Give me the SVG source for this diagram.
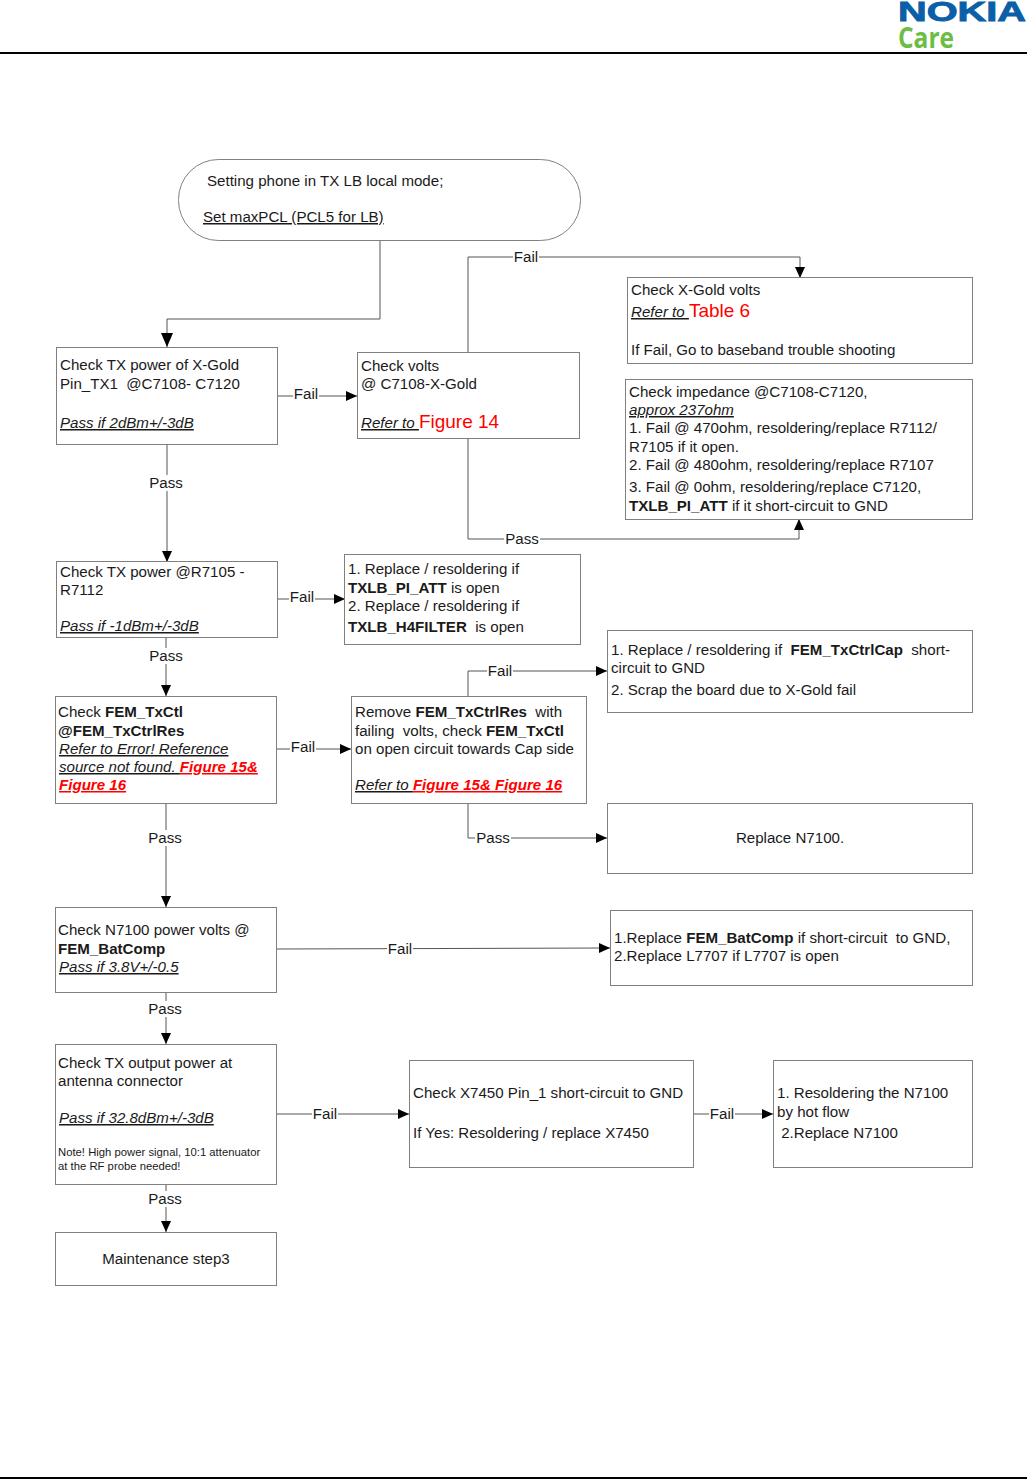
<svg xmlns="http://www.w3.org/2000/svg" width="1027" height="1479" viewBox="0 0 1027 1479">
<style>
text{font-family:"Liberation Sans",Arial,sans-serif;font-size:15.1px;fill:#1a1a1a;white-space:pre}
.box{fill:#fff;stroke:#808080;stroke-width:1}
.c{fill:none;stroke:#555;stroke-width:1}
.l{fill:#1a1a1a;text-anchor:middle}
.lb{fill:#fff;stroke:none}
.b{font-weight:bold}
.i{font-style:italic;text-decoration:underline}
.r{fill:#f00;font-weight:bold;font-style:italic;text-decoration:underline}
.rp{fill:#f00;font-size:19px}
.m{text-anchor:middle}
.s{font-size:11.300px}
</style>
<defs>
<marker id="a" markerUnits="userSpaceOnUse" markerWidth="12" markerHeight="12" refX="11" refY="6" orient="auto"><path d="M0 1L11 6L0 11Z" fill="#000"/></marker>
<marker id="a2" markerUnits="userSpaceOnUse" markerWidth="15" markerHeight="14" refX="14" refY="7" orient="auto"><path d="M0 1L14 7L0 13Z" fill="#000"/></marker>
</defs>
<g id="header">
<text x="898" y="21" style="font-size:28px;font-weight:bold;fill:#0a5fa8;stroke:#0a5fa8;stroke-width:.9" textLength="128" lengthAdjust="spacingAndGlyphs">NOKIA</text>
<text x="898" y="48" style="font-size:28px;font-weight:bold;fill:#6cbd45;font-family:'Open Sans',sans-serif" textLength="56" lengthAdjust="spacingAndGlyphs">Care</text>
<rect x="0" y="52" width="1027" height="2" fill="#000"/>
<rect x="0" y="1477" width="1027" height="2" fill="#000"/>
</g>
<g id="connectors">
<path class="c" marker-end="url(#a2)" d="M380 240V319H167V347"/>
<path class="c" marker-end="url(#a)" d="M278 396H357"/>
<path class="c" marker-end="url(#a)" d="M167 444V562"/>
<path class="c" marker-end="url(#a)" d="M468 352V257H800V278"/>
<path class="c" marker-end="url(#a)" d="M468 438V539H799V519"/>
<path class="c" marker-end="url(#a)" d="M278 599H345"/>
<path class="c" marker-end="url(#a)" d="M166 637V696"/>
<path class="c" marker-end="url(#a)" d="M277 749H351"/>
<path class="c" marker-end="url(#a)" d="M468 696V671H607"/>
<path class="c" marker-end="url(#a)" d="M468 803V838H607"/>
<path class="c" marker-end="url(#a)" d="M166 803V907"/>
<path class="c" marker-end="url(#a)" d="M277 949L610 948"/>
<path class="c" marker-end="url(#a)" d="M166 992V1044"/>
<path class="c" marker-end="url(#a)" d="M277 1114H409"/>
<path class="c" marker-end="url(#a)" d="M694 1114H773"/>
<path class="c" marker-end="url(#a)" d="M166 1184V1232"/>
<rect class="lb" x="513" y="249" width="26" height="16"/><text class="l" x="526" y="262">Fail</text>
<rect class="lb" x="293" y="386" width="26" height="16"/><text class="l" x="306" y="399">Fail</text>
<rect class="lb" x="148" y="475" width="36" height="16"/><text class="l" x="166" y="488">Pass</text>
<rect class="lb" x="504" y="531" width="36" height="16"/><text class="l" x="522" y="544">Pass</text>
<rect class="lb" x="289" y="589" width="26" height="16"/><text class="l" x="302" y="602">Fail</text>
<rect class="lb" x="148" y="648" width="36" height="16"/><text class="l" x="166" y="661">Pass</text>
<rect class="lb" x="290" y="739" width="26" height="16"/><text class="l" x="303" y="752">Fail</text>
<rect class="lb" x="487" y="663" width="26" height="16"/><text class="l" x="500" y="676">Fail</text>
<rect class="lb" x="475" y="830" width="36" height="16"/><text class="l" x="493" y="843">Pass</text>
<rect class="lb" x="147" y="830" width="36" height="16"/><text class="l" x="165" y="843">Pass</text>
<rect class="lb" x="387" y="941" width="26" height="16"/><text class="l" x="400" y="954">Fail</text>
<rect class="lb" x="147" y="1001" width="36" height="16"/><text class="l" x="165" y="1014">Pass</text>
<rect class="lb" x="312" y="1106" width="26" height="16"/><text class="l" x="325" y="1119">Fail</text>
<rect class="lb" x="709" y="1106" width="26" height="16"/><text class="l" x="722" y="1119">Fail</text>
<rect class="lb" x="147" y="1191" width="36" height="16"/><text class="l" x="165" y="1204">Pass</text>
</g>
<g id="n1"><rect class="box" x="178.500" y="159.500" width="402" height="81" rx="40" ry="40"/>
<text x="207" y="186">Setting phone in TX LB local mode;</text>
<text x="203" y="222" text-decoration="underline">Set maxPCL (PCL5 for LB)</text></g>
<g id="n2"><rect class="box" x="56.500" y="347.500" width="221" height="97"/>
<text x="60" y="370">Check TX power of X-Gold</text><text x="60" y="389">Pin_TX1  @C7108- C7120</text>
<text x="60" y="428" class="i">Pass if 2dBm+/-3dB</text></g>
<g id="n3"><rect class="box" x="357.500" y="352.500" width="222" height="86"/>
<text x="361" y="371">Check volts</text><text x="361" y="389">@ C7108-X-Gold</text>
<text x="361" y="428"><tspan class="i">Refer to </tspan><tspan class="rp">Figure 14</tspan></text></g>
<g id="n4"><rect class="box" x="627.500" y="277.500" width="345" height="86"/>
<text x="631" y="295">Check X-Gold volts</text>
<text x="631" y="317"><tspan class="i">Refer to </tspan><tspan class="rp">Table 6</tspan></text>
<text x="631" y="355">If Fail, Go to baseband trouble shooting</text></g>
<g id="n5"><rect class="box" x="625.500" y="379.500" width="347" height="140"/>
<text x="629" y="397">Check impedance @C7108-C7120,</text>
<text x="629" y="415" class="i">approx 237ohm</text>
<text x="629" y="433">1. Fail @ 470ohm, resoldering/replace R7112/</text>
<text x="629" y="452">R7105 if it open.</text>
<text x="629" y="470">2. Fail @ 480ohm, resoldering/replace R7107</text>
<text x="629" y="492">3. Fail @ 0ohm, resoldering/replace C7120,</text>
<text x="629" y="511"><tspan class="b">TXLB_PI_ATT</tspan> if it short-circuit to GND</text></g>
<g id="n6"><rect class="box" x="56.500" y="561.500" width="221" height="76"/>
<text x="60" y="577">Check TX power @R7105 -</text><text x="60" y="595">R7112</text>
<text x="60" y="631" class="i">Pass if -1dBm+/-3dB</text></g>
<g id="n7"><rect class="box" x="344.500" y="554.500" width="236" height="90"/>
<text x="348" y="574">1. Replace / resoldering if</text>
<text x="348" y="593"><tspan class="b">TXLB_PI_ATT</tspan> is open</text>
<text x="348" y="611">2. Replace / resoldering if</text>
<text x="348" y="632"><tspan class="b">TXLB_H4FILTER</tspan>  is open</text></g>
<g id="n8"><rect class="box" x="607.500" y="630.500" width="365" height="82"/>
<text x="611" y="655">1. Replace / resoldering if  <tspan class="b">FEM_TxCtrlCap</tspan>  short-</text>
<text x="611" y="673">circuit to GND</text>
<text x="611" y="695">2. Scrap the board due to X-Gold fail</text></g>
<g id="n9"><rect class="box" x="55.500" y="696.500" width="221" height="107"/>
<text x="58" y="717">Check <tspan class="b">FEM_TxCtl</tspan></text>
<text x="58" y="736" class="b">@FEM_TxCtrlRes</text>
<text x="59" y="754" class="i">Refer to Error! Reference</text>
<text x="59" y="772"><tspan class="i">source not found. </tspan><tspan class="r">Figure 15&amp;</tspan></text>
<text x="59" y="790" class="r">Figure 16</text></g>
<g id="n10"><rect class="box" x="351.500" y="696.500" width="235" height="107"/>
<text x="355" y="717">Remove <tspan class="b">FEM_TxCtrlRes</tspan>  with</text>
<text x="355" y="736">failing  volts, check <tspan class="b">FEM_TxCtl</tspan></text>
<text x="355" y="754">on open circuit towards Cap side</text>
<text x="355" y="790"><tspan class="i">Refer to </tspan><tspan class="r">Figure 15&amp; Figure 16</tspan></text></g>
<g id="n11"><rect class="box" x="607.500" y="803.500" width="365" height="70"/>
<text class="m" x="790" y="843">Replace N7100.</text></g>
<g id="n12"><rect class="box" x="55.500" y="907.500" width="221" height="85"/>
<text x="58" y="935">Check N7100 power volts @</text>
<text x="58" y="954" class="b">FEM_BatComp</text>
<text x="59" y="972" class="i">Pass if 3.8V+/-0.5</text></g>
<g id="n13"><rect class="box" x="610.500" y="910.500" width="362" height="75"/>
<text x="614" y="943">1.Replace <tspan class="b">FEM_BatComp</tspan> if short-circuit  to GND,</text>
<text x="614" y="961">2.Replace L7707 if L7707 is open</text></g>
<g id="n14"><rect class="box" x="55.500" y="1044.500" width="221" height="140"/>
<text x="58" y="1068">Check TX output power at</text><text x="58" y="1086">antenna connector</text>
<text x="59" y="1123" class="i">Pass if 32.8dBm+/-3dB</text>
<text x="58" y="1156" class="s">Note! High power signal, 10:1 attenuator</text>
<text x="58" y="1170" class="s">at the RF probe needed!</text></g>
<g id="n15"><rect class="box" x="409.500" y="1060.500" width="284" height="107"/>
<text x="413" y="1098">Check X7450 Pin_1 short-circuit to GND</text>
<text x="413" y="1138">If Yes: Resoldering / replace X7450</text></g>
<g id="n16"><rect class="box" x="773.500" y="1060.500" width="199" height="107"/>
<text x="777" y="1098">1. Resoldering the N7100</text><text x="777" y="1117">by hot flow</text>
<text x="777" y="1138"> 2.Replace N7100</text></g>
<g id="n17"><rect class="box" x="55.500" y="1232.500" width="221" height="53"/>
<text class="m" x="166" y="1264">Maintenance step3</text></g>
</svg>
